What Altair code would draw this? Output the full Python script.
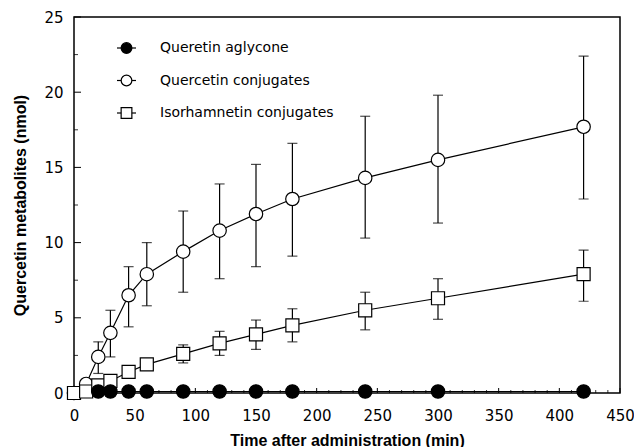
import altair as alt
import pandas as pd

# ---- data ----
times = [0, 10, 20, 30, 45, 60, 90, 120, 150, 180, 240, 300, 420]
aglycone = [None, None, 0.1, 0.1, 0.1, 0.1, 0.1, 0.1, 0.1, 0.1, 0.1, 0.1, 0.1]
conj = [0.0, 0.6, 2.4, 4.0, 6.5, 7.9, 9.4, 10.8, 11.9, 12.9, 14.3, 15.5, 17.7]
conj_hi = [None, None, 3.4, 5.5, 8.4, 10.0, 12.1, 13.9, 15.2, 16.6, 18.4, 19.8, 22.4]
conj_lo = [None, None, 1.3, 2.4, 4.4, 5.8, 6.7, 7.6, 8.4, 9.1, 10.3, 11.3, 12.9]
iso = [0.0, 0.1, 0.5, 0.8, 1.4, 1.9, 2.6, 3.3, 3.9, 4.5, 5.5, 6.3, 7.9]
iso_hi = [None, None, None, None, None, None, 3.2, 4.1, 4.85, 5.6, 6.7, 7.6, 9.5]
iso_lo = [None, None, None, None, None, None, 2.0, 2.5, 2.9, 3.4, 4.2, 4.9, 6.1]

legend_labels = ["Queretin aglycone", "Quercetin conjugates", "Isorhamnetin conjugates"]
legend_shapes = ["circle", "circle", "square"]
legend_fills = ["black", "white", "white"]

x_major = [0, 50, 100, 150, 200, 250, 300, 350, 400, 450]
x_minor = [v for v in range(0, 451, 10) if v % 50 != 0]
y_major = [0, 5, 10, 15, 20, 25]
y_minor = [2.5, 7.5, 12.5, 17.5, 22.5]

df = pd.DataFrame({
    "time": times, "aglycone": aglycone,
    "conj": conj, "conj_hi": conj_hi, "conj_lo": conj_lo,
    "iso": iso, "iso_hi": iso_hi, "iso_lo": iso_lo,
})
leg = pd.DataFrame({"label": legend_labels, "shape": legend_shapes, "fill": legend_fills})

W, H = 546, 376
TICKFONT = "DejaVu Sans"
TITLEFONT = "Liberation Sans"

xs = alt.Scale(domain=[0, 450], nice=False, zero=False)
ys = alt.Scale(domain=[0, 25], nice=False, zero=False)

XAX = alt.Axis(values=x_major, tickSize=0, domain=False, grid=False, labelFlush=False,
               labelOverlap=False, labelFont=TICKFONT, labelFontSize=15, labelColor="black",
               labelPadding=15, title="Time after administration (min)", titleFont=TITLEFONT,
               titleFontSize=16, titleFontWeight="bold", titleColor="black", titlePadding=9)
YAX = alt.Axis(values=y_major, tickSize=0, domain=False, grid=False, labelFlush=False,
               labelOverlap=False, labelFont=TICKFONT, labelFontSize=15, labelColor="black",
               labelPadding=11, title="Quercetin metabolites (nmol)", titleFont=TITLEFONT,
               titleFontSize=16, titleFontWeight="bold", titleColor="black", titlePadding=15)

X = alt.X("time:Q", scale=xs, axis=XAX)

def Y(field):
    return alt.Y(f"{field}:Q", scale=ys, axis=YAX)

base = alt.Chart(df)

LW = 1.2
# tick marks (inward)
tx_major = alt.Chart(pd.DataFrame({"v": x_major})).mark_rule(color="black", strokeWidth=1).encode(
    x=alt.X("v:Q", scale=xs, axis=XAX), y=alt.value(H), y2=alt.value(H - 5))
tx_minor = alt.Chart(pd.DataFrame({"v": x_minor})).mark_rule(color="black", strokeWidth=0.8).encode(
    x=alt.X("v:Q", scale=xs, axis=XAX), y=alt.value(H), y2=alt.value(H - 3))
ty_major = alt.Chart(pd.DataFrame({"v": y_major})).mark_rule(color="black", strokeWidth=1).encode(
    y=alt.Y("v:Q", scale=ys, axis=YAX), x=alt.value(0), x2=alt.value(7))
ty_minor = alt.Chart(pd.DataFrame({"v": y_minor})).mark_rule(color="black", strokeWidth=0.8).encode(
    y=alt.Y("v:Q", scale=ys, axis=YAX), x=alt.value(0), x2=alt.value(4))

def errbars(lo, hi):
    d = base.transform_filter(f"isValid(datum.{hi})")
    bar = d.mark_rule(color="black", strokeWidth=LW).encode(x=X, y=Y(lo), y2=f"{hi}:Q")
    cap_hi = d.mark_tick(orient="horizontal", size=10, thickness=LW, color="black").encode(x=X, y=Y(hi))
    cap_lo = d.mark_tick(orient="horizontal", size=10, thickness=LW, color="black").encode(x=X, y=Y(lo))
    return [bar, cap_hi, cap_lo]

def series(field, shape, fill, size):
    d = base.transform_filter(f"isValid(datum.{field})")
    line = d.mark_line(color="black", strokeWidth=LW).encode(x=X, y=Y(field))
    pts = d.mark_point(shape=shape, filled=True, fill=fill, stroke="black", strokeWidth=LW,
                       size=size, opacity=1).encode(x=X, y=Y(field))
    return [line, pts]

layers = [tx_major, tx_minor, ty_major, ty_minor]
layers += errbars("conj_lo", "conj_hi")
layers += errbars("iso_lo", "iso_hi")
layers += series("conj", "circle", "white", 180)
layers += series("iso", "square", "white", 170)
layers += series("aglycone", "circle", "black", 180)
main = alt.layer(*layers)

# legend drawn inside plot
LY = alt.Y("label:N", scale=alt.Scale(type="point", domain=legend_labels, range=[31, 96], padding=0), axis=None)
lc = alt.Chart(leg)
leg_line = lc.mark_rule(color="black", strokeWidth=LW).encode(y=LY, x=alt.value(43), x2=alt.value(62))
leg_pt = lc.mark_point(filled=True, stroke="black", strokeWidth=LW, size=115, opacity=1).encode(
    y=LY, x=alt.value(52.5),
    shape=alt.Shape("shape:N", scale=None, legend=None),
    fill=alt.Fill("fill:N", scale=None, legend=None))
leg_txt = lc.mark_text(align="left", baseline="middle", font=TICKFONT, fontSize=14, color="black").encode(
    y=LY, x=alt.value(86), text="label:N")
legend = alt.layer(leg_line, leg_pt, leg_txt)

chart = alt.layer(main, legend).resolve_scale(y="independent").properties(
    width=W, height=H,
    autosize=alt.AutoSizeParams(type="none"),
    padding={"left": 74, "top": 17, "right": 14, "bottom": 54},
    background="white",
).configure_view(stroke="black", strokeWidth=1.5)

chart.save("out.html", embed_options={"renderer": "svg", "actions": False})
